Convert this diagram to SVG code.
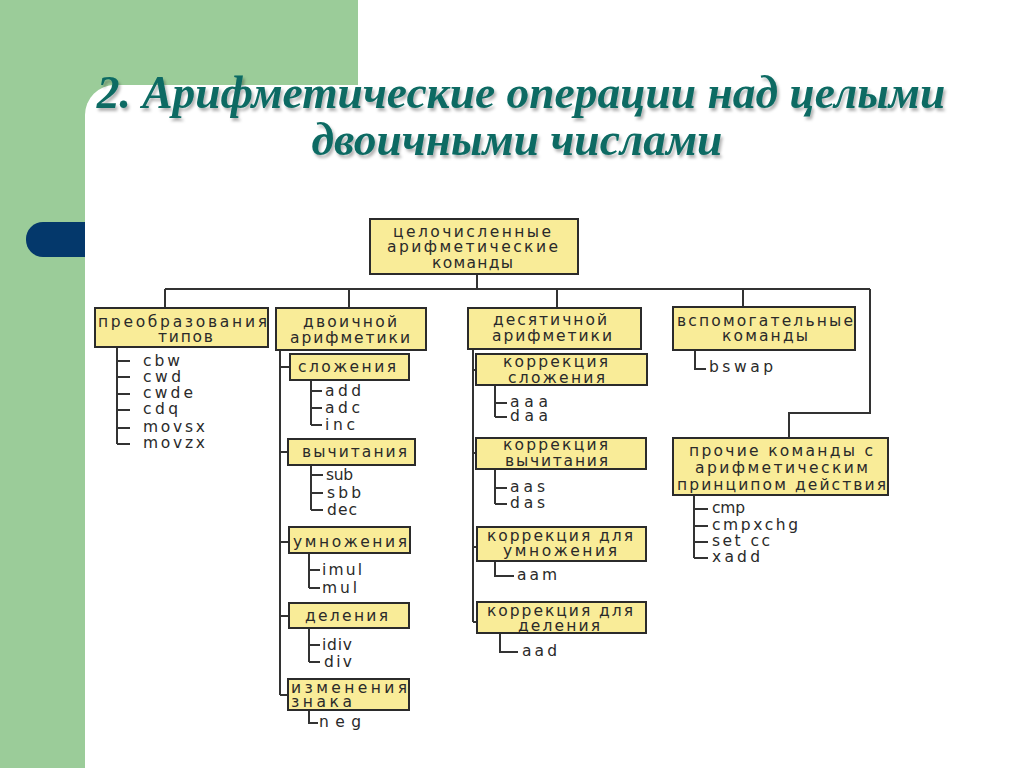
<svg xmlns="http://www.w3.org/2000/svg" width="1024" height="768" viewBox="0 0 1024 768">
<defs>
<filter id="sh" x="-5%" y="-20%" width="110%" height="150%">
<feDropShadow dx="2" dy="3" stdDeviation="1.5" flood-color="#000" flood-opacity="0.3"/>
</filter>
</defs>
<style>
.bx{fill:#f9ec98;stroke:#2b2b2b;stroke-width:2}
.t{font-family:"DejaVu Sans",sans-serif;font-size:15.5px;fill:#2a2a2a}
.c{fill:none;stroke:#333;stroke-width:2}
.title{font-family:"Liberation Serif",serif;font-size:45.5px;font-weight:bold;font-style:italic;fill:#0b6b63;text-anchor:middle}
</style>
<rect x="0" y="0" width="1024" height="768" fill="#fff"/>
<rect x="0" y="0" width="358" height="768" fill="#9bcc99"/>
<rect x="26" y="222" width="80" height="35" rx="17" fill="#04386b"/>
<rect x="85" y="85" width="1000" height="720" rx="30" fill="#fff"/>
<g filter="url(#sh)">
<text class="title" x="521" y="108">2. Арифметические операции над целыми</text>
<text class="title" x="517" y="155">двоичными числами</text>
</g>
<g id="connectors" class="c">
<path d="M477 274V289M165 289H870M165 289V308M349 289V308M557 289V308M743 289V307M870 289V413H789V438"/>
<path d="M117 347V444M117 361H130M117 377H130M117 394H130M117 410H130M117 428H130M117 444H130"/>
<path d="M280 350V695M280 367H290M280 452H288M280 542H289M280 616H289M280 695H288"/>
<path d="M311 380V425M311 391H322M311 408H322M311 425H322"/>
<path d="M311 465V510M311 475H323M311 493H323M311 510H323"/>
<path d="M309 553V588M309 570H320M309 588H320"/>
<path d="M309 628V662M309 645H320M309 662H320"/>
<path d="M309 710V723H318"/>
<path d="M473 349V622M473 370H476M473 453H476M473 547H477M473 622H477"/>
<path d="M495 385V417M495 403H507M495 417H507"/>
<path d="M495 469V504M495 488H507M495 504H507"/>
<path d="M495 561V576H514"/>
<path d="M500 633V652H518"/>
<path d="M695 350V369H706"/>
<path d="M694 495V558M694 509H708M694 526H708M694 542H708M694 558H708"/>
</g>
<g id="root"><rect class="bx" x="370" y="219" width="208" height="55"/>
<text class="t" x="393" y="237" textLength="158" lengthAdjust="spacing">целочисленные</text>
<text class="t" x="387" y="252" textLength="171" lengthAdjust="spacing">арифметические</text>
<text class="t" x="432" y="268" textLength="81" lengthAdjust="spacing">команды</text></g>
<g id="n-types"><rect class="bx" x="95" y="308" width="173" height="39"/>
<text class="t" x="98" y="327" textLength="169" lengthAdjust="spacing">преобразования</text>
<text class="t" x="158" y="342" textLength="55" lengthAdjust="spacing">типов</text>
<text class="t" x="143" y="366" textLength="37" lengthAdjust="spacing">cbw</text>
<text class="t" x="143" y="382" textLength="38" lengthAdjust="spacing">cwd</text>
<text class="t" x="143" y="398" textLength="50" lengthAdjust="spacing">cwde</text>
<text class="t" x="143" y="414" textLength="35" lengthAdjust="spacing">cdq</text>
<text class="t" x="143" y="432" textLength="62" lengthAdjust="spacing">movsx</text>
<text class="t" x="143" y="448" textLength="62" lengthAdjust="spacing">movzx</text></g>
<g id="n-binary"><rect class="bx" x="276" y="308" width="150" height="42"/>
<text class="t" x="303" y="327" textLength="94" lengthAdjust="spacing">двоичной</text>
<text class="t" x="290" y="343" textLength="120" lengthAdjust="spacing">арифметики</text></g>
<g id="n-add"><rect class="bx" x="290" y="354" width="119" height="26"/>
<text class="t" x="298" y="372" textLength="98" lengthAdjust="spacing">сложения</text>
<text class="t" x="325" y="396" textLength="36" lengthAdjust="spacing">add</text>
<text class="t" x="325" y="413" textLength="35" lengthAdjust="spacing">adc</text>
<text class="t" x="325" y="430" textLength="30" lengthAdjust="spacing">inc</text></g>
<g id="n-sub"><rect class="bx" x="288" y="439" width="127" height="26"/>
<text class="t" x="302" y="457" textLength="105" lengthAdjust="spacing">вычитания</text>
<text class="t" x="326" y="480" textLength="27" lengthAdjust="spacing">sub</text>
<text class="t" x="327" y="498" textLength="34" lengthAdjust="spacing">sbb</text>
<text class="t" x="327" y="515" textLength="30" lengthAdjust="spacing">dec</text></g>
<g id="n-mul"><rect class="bx" x="289" y="527" width="121" height="26"/>
<text class="t" x="293" y="547" textLength="114" lengthAdjust="spacing">умножения</text>
<text class="t" x="322" y="575" textLength="40" lengthAdjust="spacing">imul</text>
<text class="t" x="322" y="593" textLength="35" lengthAdjust="spacing">mul</text></g>
<g id="n-div"><rect class="bx" x="289" y="603" width="120" height="25"/>
<text class="t" x="305" y="621" textLength="83" lengthAdjust="spacing">деления</text>
<text class="t" x="322" y="650" textLength="30" lengthAdjust="spacing">idiv</text>
<text class="t" x="324" y="667" textLength="28" lengthAdjust="spacing">div</text></g>
<g id="n-sign"><rect class="bx" x="288" y="679" width="121" height="31"/>
<text class="t" x="291" y="693" textLength="116" lengthAdjust="spacing">изменения</text>
<text class="t" x="291" y="707" textLength="61" lengthAdjust="spacing">знака</text>
<text class="t" x="319" y="727" textLength="42" lengthAdjust="spacing">neg</text></g>
<g id="n-decimal"><rect class="bx" x="468" y="308" width="173" height="41"/>
<text class="t" x="493" y="325" textLength="114" lengthAdjust="spacing">десятичной</text>
<text class="t" x="492" y="341" textLength="120" lengthAdjust="spacing">арифметики</text></g>
<g id="n-cadd"><rect class="bx" x="476" y="354" width="171" height="31"/>
<text class="t" x="503" y="367" textLength="105" lengthAdjust="spacing">коррекция</text>
<text class="t" x="508" y="383" textLength="97" lengthAdjust="spacing">сложения</text>
<text class="t" x="510" y="407" textLength="38" lengthAdjust="spacing">aaa</text>
<text class="t" x="510" y="421" textLength="38" lengthAdjust="spacing">daa</text></g>
<g id="n-csub"><rect class="bx" x="476" y="438" width="170" height="31"/>
<text class="t" x="503" y="450" textLength="105" lengthAdjust="spacing">коррекция</text>
<text class="t" x="505" y="466" textLength="103" lengthAdjust="spacing">вычитания</text>
<text class="t" x="510" y="492" textLength="35" lengthAdjust="spacing">aas</text>
<text class="t" x="510" y="508" textLength="35" lengthAdjust="spacing">das</text></g>
<g id="n-cmul"><rect class="bx" x="477" y="527" width="169" height="34"/>
<text class="t" x="487" y="541" textLength="146" lengthAdjust="spacing">коррекция для</text>
<text class="t" x="503" y="556" textLength="114" lengthAdjust="spacing">умножения</text>
<text class="t" x="517" y="580" textLength="40" lengthAdjust="spacing">aam</text></g>
<g id="n-cdiv"><rect class="bx" x="477" y="602" width="169" height="31"/>
<text class="t" x="487" y="616" textLength="146" lengthAdjust="spacing">коррекция для</text>
<text class="t" x="518" y="631" textLength="82" lengthAdjust="spacing">деления</text>
<text class="t" x="522" y="656" textLength="35" lengthAdjust="spacing">aad</text></g>
<g id="n-aux"><rect class="bx" x="673" y="307" width="182" height="43"/>
<text class="t" x="677" y="326" textLength="176" lengthAdjust="spacing">вспомогательные</text>
<text class="t" x="722" y="341" textLength="86" lengthAdjust="spacing">команды</text>
<text class="t" x="709" y="372" textLength="64" lengthAdjust="spacing">bswap</text></g>
<g id="n-other"><rect class="bx" x="673" y="438" width="215" height="57"/>
<text class="t" x="689" y="456" textLength="184" lengthAdjust="spacing">прочие команды с</text>
<text class="t" x="695" y="473" textLength="173" lengthAdjust="spacing">арифметическим</text>
<text class="t" x="677" y="490" textLength="209" lengthAdjust="spacing">принципом действия</text>
<text class="t" x="712" y="513" textLength="33" lengthAdjust="spacing">cmp</text>
<text class="t" x="712" y="530" textLength="86" lengthAdjust="spacing">cmpxchg</text>
<text class="t" x="712" y="546" textLength="58" lengthAdjust="spacing">set cc</text>
<text class="t" x="712" y="562" textLength="48" lengthAdjust="spacing">xadd</text></g>
</svg>
